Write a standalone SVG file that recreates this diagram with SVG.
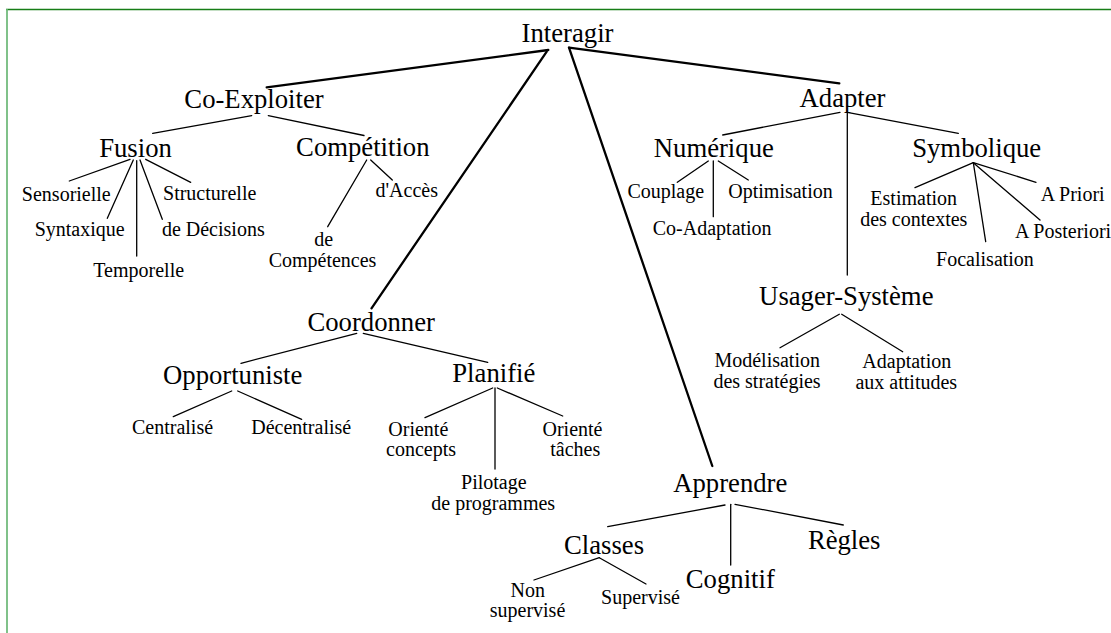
<svg xmlns="http://www.w3.org/2000/svg" width="1111" height="633" viewBox="0 0 1111 633">
<style>
text{font-family:"Liberation Serif",serif;fill:#000;text-anchor:middle}
.L{font-size:26.7px}
.S{font-size:20px}
.thick{stroke:#000;stroke-width:2.3;fill:none;stroke-linecap:round}
.thin{stroke:#000;stroke-width:1.3;fill:none;stroke-linecap:round}
</style>
<rect width="1111" height="633" fill="#fff"/>
<g id="frame">
<line x1="6" y1="9.5" x2="1111" y2="9.5" stroke="#177d17" stroke-width="1.3"/>
<line x1="7" y1="9" x2="7" y2="633" stroke="#6ab775" stroke-width="1.7"/>
</g>
<g id="connectors">
<g class="thick">
<line x1="548.3" y1="50" x2="266.7" y2="87.3"/>
<line x1="546.7" y1="51.7" x2="371.5" y2="308.3"/>
<line x1="569" y1="47.7" x2="712.3" y2="466"/>
<line x1="569" y1="47.7" x2="839.3" y2="83.3"/>
</g>
<g class="thin">
<line x1="251.7" y1="115.7" x2="152.7" y2="133.3"/>
<line x1="268.3" y1="115.7" x2="364" y2="135.5"/>
<line x1="130" y1="159.3" x2="69.3" y2="181"/>
<line x1="133.3" y1="160" x2="107.3" y2="218.3"/>
<line x1="136.7" y1="160.7" x2="136.7" y2="256"/>
<line x1="140" y1="160" x2="162.3" y2="219.3"/>
<line x1="145.7" y1="159.3" x2="190.7" y2="182.3"/>
<line x1="366.7" y1="160" x2="327.7" y2="226.7"/>
<line x1="370.7" y1="160" x2="392.3" y2="180"/>
<line x1="722.7" y1="135" x2="840" y2="112.3"/>
<line x1="847.3" y1="112.3" x2="958.3" y2="133.3"/>
<line x1="847.3" y1="112.3" x2="847.3" y2="275"/>
<line x1="708.3" y1="161" x2="677.3" y2="182.3"/>
<line x1="713.3" y1="161" x2="713.3" y2="216.7"/>
<line x1="718.3" y1="161" x2="748.3" y2="180"/>
<line x1="973.3" y1="162.7" x2="915" y2="187.7"/>
<line x1="973.3" y1="162.7" x2="985.7" y2="241.7"/>
<line x1="973.3" y1="162.7" x2="1040" y2="220"/>
<line x1="973.3" y1="162.7" x2="1036" y2="182.3"/>
<line x1="839.3" y1="314.3" x2="780" y2="347.7"/>
<line x1="841.7" y1="314.3" x2="902.7" y2="351.7"/>
<line x1="356.7" y1="333.3" x2="241" y2="363.3"/>
<line x1="363.3" y1="333.3" x2="487.7" y2="362.3"/>
<line x1="231.7" y1="391" x2="173.3" y2="416.7"/>
<line x1="237.7" y1="391" x2="301.7" y2="419.3"/>
<line x1="492.7" y1="388" x2="425" y2="417.7"/>
<line x1="495" y1="388" x2="495" y2="469"/>
<line x1="497.3" y1="388" x2="562.7" y2="416"/>
<line x1="725" y1="505" x2="607.7" y2="526.7"/>
<line x1="730.7" y1="504.3" x2="730.7" y2="565"/>
<line x1="735" y1="504.3" x2="843.3" y2="525"/>
<line x1="599.3" y1="557.7" x2="534" y2="580"/>
<line x1="599.3" y1="557.7" x2="646" y2="584"/>
</g>
</g>
<g id="n-interagir"><text class="L" x="567.5" y="41.7">Interagir</text></g>
<g id="n-coexploiter"><text class="L" x="254" y="107.5">Co-Exploiter</text></g>
<g id="n-adapter"><text class="L" x="842.5" y="107.3">Adapter</text></g>
<g id="n-fusion"><text class="L" x="135.5" y="156.7">Fusion</text></g>
<g id="n-competition"><text class="L" x="362.8" y="155.7">Compétition</text></g>
<g id="n-numerique"><text class="L" x="713.8" y="156.7">Numérique</text></g>
<g id="n-symbolique"><text class="L" x="976.7" y="156.7">Symbolique</text></g>
<g id="n-usager"><text class="L" x="846.3" y="305">Usager-Système</text></g>
<g id="n-coordonner"><text class="L" x="371.2" y="331">Coordonner</text></g>
<g id="n-opportuniste"><text class="L" x="232.7" y="384.3">Opportuniste</text></g>
<g id="n-planifie"><text class="L" x="493.8" y="381.7">Planifié</text></g>
<g id="n-apprendre"><text class="L" x="730.3" y="491.7">Apprendre</text></g>
<g id="n-classes"><text class="L" x="604" y="553.5">Classes</text></g>
<g id="n-regles"><text class="L" x="844.2" y="549">Règles</text></g>
<g id="n-cognitif"><text class="L" x="730.3" y="587.7">Cognitif</text></g>
<g id="n-sensorielle"><text class="S" x="66.3" y="201">Sensorielle</text></g>
<g id="n-structurelle"><text class="S" x="209.7" y="200">Structurelle</text></g>
<g id="n-syntaxique"><text class="S" x="79.7" y="235.5">Syntaxique</text></g>
<g id="n-decisions"><text class="S" x="213.3" y="236">de Décisions</text></g>
<g id="n-temporelle"><text class="S" x="138.7" y="276.7">Temporelle</text></g>
<g id="n-competences"><text class="S" x="323.7" y="245.7">de</text><text class="S" x="322.5" y="266.7">Compétences</text></g>
<g id="n-acces"><text class="S" x="406.7" y="197.3">d'Accès</text></g>
<g id="n-couplage"><text class="S" x="665.8" y="197.7">Couplage</text></g>
<g id="n-optimisation"><text class="S" x="780.5" y="197.7">Optimisation</text></g>
<g id="n-coadaptation"><text class="S" x="712.2" y="235">Co-Adaptation</text></g>
<g id="n-estimation"><text class="S" x="913.7" y="205">Estimation</text><text class="S" x="913.8" y="226">des contextes</text></g>
<g id="n-apriori"><text class="S" x="1072.7" y="201">A Priori</text></g>
<g id="n-aposteriori"><text class="S" x="1015" y="237.7" style="text-anchor:start">A Posteriori</text></g>
<g id="n-focalisation"><text class="S" x="985" y="265.7">Focalisation</text></g>
<g id="n-modelisation"><text class="S" x="767.2" y="366.7">Modélisation</text><text class="S" x="767" y="387.7">des stratégies</text></g>
<g id="n-adaptation"><text class="S" x="906.8" y="367.7">Adaptation</text><text class="S" x="906.3" y="389">aux attitudes</text></g>
<g id="n-centralise"><text class="S" x="172.5" y="434.3">Centralisé</text></g>
<g id="n-decentralise"><text class="S" x="301.2" y="434.3">Décentralisé</text></g>
<g id="n-concepts"><text class="S" x="418.3" y="435.7">Orienté</text><text class="S" x="421" y="455.7">concepts</text></g>
<g id="n-pilotage"><text class="S" x="493.8" y="489">Pilotage</text><text class="S" x="493.2" y="510">de programmes</text></g>
<g id="n-taches"><text class="S" x="572.5" y="435.7">Orienté</text><text class="S" x="575.3" y="455.7">tâches</text></g>
<g id="n-nonsupervise"><text class="S" x="527.7" y="597.3">Non</text><text class="S" x="527.5" y="617.3">supervisé</text></g>
<g id="n-supervise"><text class="S" x="640.5" y="604">Supervisé</text></g>
</svg>
